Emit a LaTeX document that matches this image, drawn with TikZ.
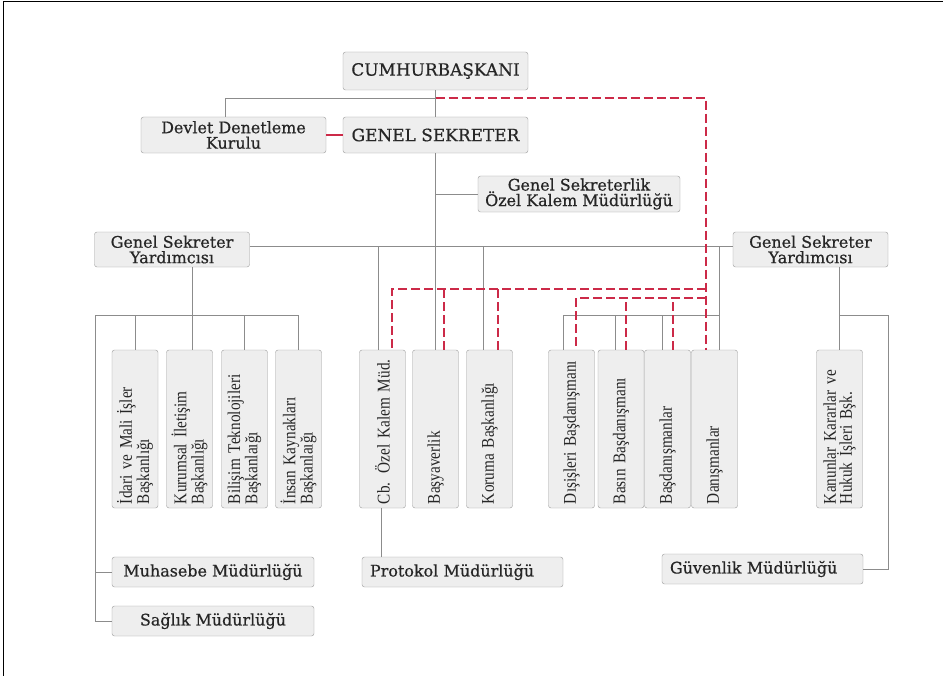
\documentclass[tikz,border=0pt]{standalone}
\usepackage{fontspec}
\setmainfont{Liberation Serif}
\newfontfamily\headfont[FakeBold=0.6]{DejaVu Serif}
\newfontfamily\vertfont[FakeStretch=0.85]{Liberation Serif}
\usetikzlibrary{positioning}
\definecolor{boxfill}{HTML}{EEEEEE}
\definecolor{boxline}{HTML}{9A9A9A}
\definecolor{linkgray}{HTML}{8C8C8C}
\definecolor{linkred}{HTML}{CC2A48}

\begin{document}
\begin{tikzpicture}[x=1bp,y=-1bp,semithick]
  \tikzstyle{unit}=[draw=boxline,fill=boxfill,rounded corners=2.5bp,thin,inner sep=1bp,
                    align=center,text=black!85,font=\headfont\fontsize{16}{15.5}\selectfont]
  \tikzstyle{vunit}=[unit,rotate=90,minimum height=46bp,text width=150bp,align=left,
                     inner xsep=4bp,font=\vertfont\fontsize{18}{15}\selectfont]
  \tikzstyle{link}=[draw=linkgray,thin]
  \tikzstyle{redlink}=[draw=linkred,line width=1.1bp,dash pattern=on 9bp off 4bp]

  \useasboundingbox (0,0) rectangle (943,676);
  \draw[line width=1.6bp] (3.5,676) -- (3.5,1.5) -- (943,1.5);

  % top level
  \node[unit,minimum width=185bp,minimum height=38bp,font=\headfont\fontsize{17}{18}\selectfont] (cb) at (435.5,71) {CUMHURBAŞKANI};
  \node[unit,minimum width=185bp,minimum height=36bp] (devlet) at (233.5,135) {Devlet Denetleme\\Kurulu};
  \node[unit,minimum width=185bp,minimum height=36bp,font=\headfont\fontsize{17}{18}\selectfont] (gs) at (435.5,135) {GENEL SEKRETER};
  \node[unit,minimum width=202bp,minimum height=36bp] (gsozel) at (579,194) {Genel Sekreterlik\\Özel Kalem Müdürlüğü};

  \node[unit,minimum width=155bp,minimum height=35bp] (gsyL) at (172,249.5) {Genel Sekreter\\Yardımcısı};
  \node[unit,minimum width=155bp,minimum height=35bp] (gsyR) at (810.5,249.5) {Genel Sekreter\\Yardımcısı};

  % vertical boxes
  \node[vunit] (idari)     at (135,429)   {İdari ve Mali İşler\\Başkanlığı};
  \node[vunit] (kurumsal)  at (189.5,429) {Kurumsal İletişim\\Başkanlığı};
  \node[vunit] (bilisim)   at (244.5,429) {Bilişim Teknolojileri\\Başkanlaığı};
  \node[vunit] (insan)     at (298.5,429) {İnsan Kaynakları\\Başkanlaığı};

  \node[vunit] (cbozel)    at (382.5,429) {Cb. Özel Kalem Müd.};
  \node[vunit] (basyaver)  at (435.5,429) {Başyaverlik};
  \node[vunit] (koruma)    at (489.5,429) {Koruma Başkanlığı};

  \node[vunit] (disisleri) at (571.5,429) {Dışişleri Başdanışmanı};
  \node[vunit] (basin)     at (621,429)   {Basın Başdanışmanı};
  \node[vunit] (basdan)    at (667.5,429) {Başdanışmanlar};
  \node[vunit] (danisman)  at (714.5,429) {Danışmanlar};

  \node[vunit] (kanunlar)  at (839.5,429) {Kanunlar Kararlar ve\\Hukuk İşleri Bşk.};

  % bottom boxes
  \node[unit,minimum width=202bp,minimum height=30bp] (muhasebe) at (213,572) {Muhasebe Müdürlüğü};
  \node[unit,minimum width=202bp,minimum height=30bp] (saglik)   at (213,621) {Sağlık Müdürlüğü};
  \node[unit,minimum height=30bp,text width=185bp,align=left,inner xsep=8bp] (protokol) at (462.5,572) {Protokol Müdürlüğü};
  \node[unit,minimum height=30bp,text width=185bp,align=left,inner xsep=8bp] (guvenlik) at (762.5,569) {Güvenlik Müdürlüğü};

  \coordinate (top) at (435.5,98);
  \coordinate (bar) at ([yshift=3.5bp]gsyL.east);
  \coordinate (lcorner) at (95,315);
  \coordinate (rcorner) at (888,315);
  \coordinate (r1) at (706,289);
  \coordinate (r2) at (706,298);

  % gray links
  \draw[link] (cb) -- (gs);
  \draw[link] (top) -| ([xshift=-8bp]devlet.north);
  \draw[link] (gs) -- (basyaver.east);
  \draw[link] (gs.south |- gsozel.west) -- (gsozel.west);
  \draw[link] (bar) -- ([yshift=3.5bp]gsyR.west);
  \draw[link] ([xshift=-4.5bp]cbozel.east) -- ([xshift=-4.5bp]cbozel.east |- bar);
  \draw[link] ([xshift=-6.5bp]koruma.east) -- ([xshift=-6.5bp]koruma.east |- bar);
  \draw[link] ([xshift=4.5bp]danisman.east) -- ([xshift=4.5bp]danisman.east |- bar);

  \draw[link] ([xshift=2.5bp]kurumsal.east) -- ([xshift=2.5bp]kurumsal.east |- gsyL.south);
  \draw[link] (saglik.west) -| (lcorner) -| (insan.east);
  \draw[link] (muhasebe.west) -- (muhasebe.west -| lcorner);
  \draw[link] (idari.east) -- (idari.east |- lcorner);
  \draw[link] (bilisim.east) -- (bilisim.east |- lcorner);

  \draw[link] ([xshift=4.5bp]danisman.east |- lcorner) -| ([xshift=-8.5bp]disisleri.east);
  \draw[link] ([xshift=-6bp]basin.east) -- ([xshift=-6bp]basin.east |- lcorner);
  \draw[link] ([xshift=-5.5bp]basdan.east) -- ([xshift=-5.5bp]basdan.east |- lcorner);

  \draw[link] (kanunlar.east) -- (kanunlar.east |- gsyR.south);
  \draw[link] (kanunlar.east |- rcorner) -- (rcorner) |- (guvenlik.east);

  \draw[link] ([xshift=-1.5bp]cbozel.west) -- ([xshift=-1.5bp]cbozel.west |- protokol.north);

  % red links
  \draw[draw=linkred,line width=1.1bp] (devlet) -- (gs);
  \draw[redlink] (top) -| ([xshift=-8.5bp]danisman.east);
  \draw[redlink] (r1) -| ([xshift=9.5bp]cbozel.east);
  \draw[redlink] ([xshift=8.5bp]basyaver.east) -- ([xshift=8.5bp]basyaver.east |- r1);
  \draw[redlink] ([xshift=8.5bp]koruma.east) -- ([xshift=8.5bp]koruma.east |- r1);
  \draw[redlink] (r2) -| ([xshift=4.5bp]disisleri.east);
  \draw[redlink] ([xshift=5bp]basin.east) -- ([xshift=5bp]basin.east |- r2);
  \draw[redlink] ([xshift=5.5bp]basdan.east) -- ([xshift=5.5bp]basdan.east |- r2);

\end{tikzpicture}
\end{document}
